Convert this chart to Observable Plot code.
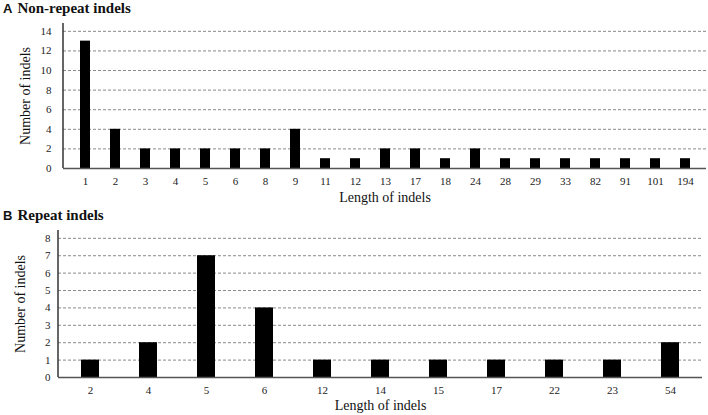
<!DOCTYPE html>
<html>
<head>
<meta charset="utf-8">
<script src="https://cdn.jsdelivr.net/npm/d3@7"></script>
<script src="https://cdn.jsdelivr.net/npm/@observablehq/plot@0.6"></script>
<style>
  body { margin: 0; background: #fff; }
  #wrap { position: relative; width: 708px; height: 415px; overflow: hidden; background: #fff; }
  .title { position: absolute; left: 3px; z-index: 2; font-family: "Liberation Serif", serif; font-weight: bold; font-size: 15px; color: #111; white-space: nowrap; line-height: 17px; }
  .title b { font-family: "Liberation Sans", Arial, sans-serif; font-size: 13px; margin-right: 5px; }
  .panel { position: absolute; left: 0; z-index: 1; }
</style>
</head>
<body>
<div id="wrap">
  <div class="panel" id="pa" style="top:0px;"></div>
  <div class="panel" id="pb" style="top:222px;"></div>
  <div class="title" style="top:0px;"><b>A</b>Non-repeat indels</div>
  <div class="title" style="top:207px;"><b>B</b>Repeat indels</div>
</div>
<script>
// Panel A: non-repeat indels
const lengthsA = ["1","2","3","4","5","6","8","9","11","12","13","17","18","24","28","29","33","82","91","101","194"];
const countsA  = [13,4,2,2,2,2,2,4,1,1,2,2,1,2,1,1,1,1,1,1,1];
const ticksA   = [0,2,4,6,8,10,12,14];

// Panel B: repeat indels
const lengthsB = ["2","4","5","6","12","14","15","17","22","23","54"];
const countsB  = [1,2,7,4,1,1,1,1,1,1,2];
const ticksB   = [0,1,2,3,4,5,6,7,8];

const xLabel = "Length of indels";
const yLabel = "Number of indels";

function panel({lengths, counts, ticks, yMax, height, marginTop, marginBottom, marginLeft, marginRight, padInner, tickPadY, labelDy}) {
  const data = lengths.map((l, i) => ({len: l, n: counts[i]}));
  const plot = Plot.plot({
    width: 708,
    height,
    marginTop, marginBottom, marginLeft, marginRight,
    style: {fontFamily: "'Liberation Serif', 'Times New Roman', serif", fontSize: "11px", color: "#222", background: "transparent", overflow: "visible"},
    x: {domain: lengths, paddingInner: padInner, paddingOuter: padInner / 2, label: null},
    y: {domain: [0, yMax], label: null},
    marks: [
      Plot.gridY(ticks.filter(t => t > 0), {stroke: "#8a8a8a", strokeOpacity: 1, strokeDasharray: "3,2"}),
      Plot.barY(data, {x: "len", y: "n", fill: "#000"}),
      Plot.ruleY([0], {stroke: "#555", strokeWidth: 1.5}),
      Plot.axisX({tickSize: 0, tickPadding: 9, label: null, fontSize: 11}),
      Plot.axisY(ticks, {tickSize: 0, tickPadding: tickPadY, label: null, fontSize: 11}),
      Plot.text([xLabel], {frameAnchor: "bottom", dy: labelDy, lineAnchor: "middle", textAnchor: "middle", fontSize: 14, fill: "#111"}),
      Plot.text([yLabel], {frameAnchor: "left", dx: -38, rotate: -90, lineAnchor: "middle", textAnchor: "middle", fontSize: 14, fill: "#111"})
    ]
  });
  // vertical y-axis line at the left edge of the frame, from the scales
  const xs = plot.scale("x"), ys = plot.scale("y");
  const svg = d3.select(plot.tagName.toLowerCase() === "svg" ? plot : plot.querySelector("svg"));
  svg.append("line")
    .attr("x1", xs.range[0]).attr("x2", xs.range[0])
    .attr("y1", ys.range[0]).attr("y2", ys.range[1])
    .attr("stroke", "#333").attr("stroke-width", 1.5);
  return plot;
}

document.getElementById("pa").appendChild(panel({
  lengths: lengthsA, counts: countsA, ticks: ticksA, yMax: 14.8,
  height: 205, marginTop: 23, marginBottom: 37, marginLeft: 63, marginRight: 2,
  padInner: 0.67, tickPadY: 12, labelDy: 29
}));
document.getElementById("pb").appendChild(panel({
  lengths: lengthsB, counts: countsB, ticks: ticksB, yMax: 8.45,
  height: 193, marginTop: 8, marginBottom: 38, marginLeft: 58, marginRight: 6,
  padInner: 0.69, tickPadY: 8, labelDy: 28
}));
</script>
</body>
</html>
